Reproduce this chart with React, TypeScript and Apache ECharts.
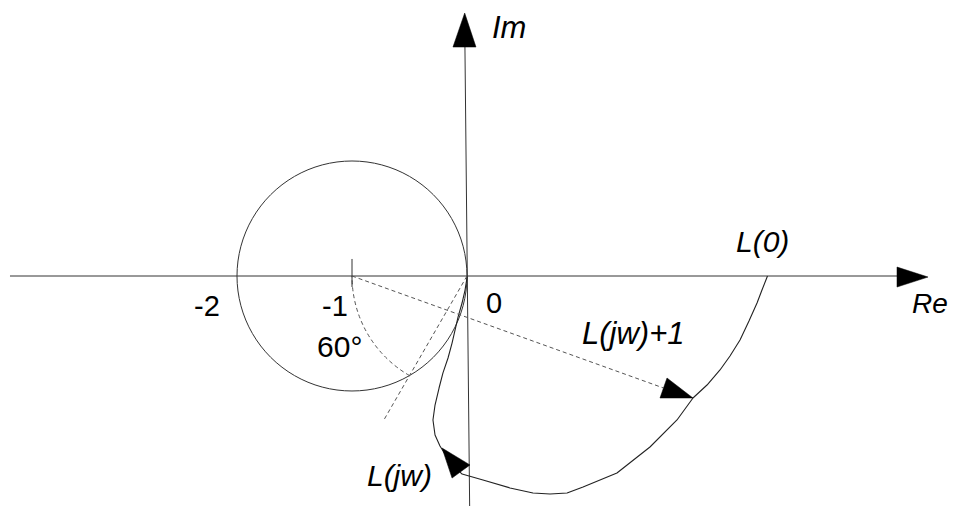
import React, { useEffect, useRef } from "react";
import * as echarts from "echarts";

// ---- data (complex-plane units) ----
const tickValues = [-2, -1, 0];
const tickLabels = ["-2", "-1", "0"];
const axisNames = ["Re", "Im"];

// axes
const realAxisLine = [[-3.974, 0], [3.76, 0]];
const imagAxisLine = [[0.023, -2.0], [-0.018, 2.0]];
const realArrow = [[4.009, -0.009], [3.739, 0.078], [3.739, -0.096]];
const imagArrow = [[-0.02, 2.287], [-0.122, 1.991], [0.078, 1.991]];
const criticalTick = [[-1, 0.148], [-1, -0.096]];

// unit circle centred at the critical point -1
const circleCenter = [-1, 0];
const circleRadius = 1;

// Nyquist curve L(jw), from L(0) to the origin
const curveRe = [
  2.613, 2.565, 2.522, 2.452, 2.374, 2.287, 2.2, 2.087, 1.965, 1.826, 1.591,
  1.304, 1.009, 0.87, 0.722, 0.574, 0.374, 0.139, -0.043, -0.148, -0.235,
  -0.278, -0.296, -0.278, -0.243, -0.209, -0.165, -0.13, -0.078, -0.043,
  -0.017, 0, 0,
];
const curveIm = [
  0, -0.122, -0.235, -0.391, -0.557, -0.696, -0.817, -0.948, -1.061, -1.252,
  -1.487, -1.713, -1.835, -1.887, -1.896, -1.887, -1.843, -1.774, -1.722,
  -1.617, -1.478, -1.383, -1.252, -1.122, -0.974, -0.843, -0.713, -0.583,
  -0.357, -0.235, -0.122, -0.017, 0,
];
const curveArrow = [[-0.217, -1.496], [0.026, -1.643], [-0.13, -1.757]];

// vector L(jw)+1 from -1
const vectorLine = [[-1, 0], [1.709, -0.974]];
const vectorArrow = [[1.965, -1.061], [1.739, -0.887], [1.678, -1.061]];

// 60° construction: arc |L|=1 from 180° to 240°, and ray at 240°
const arcRadius = 1;
const arcStartDeg = 180;
const arcEndDeg = 240;
const rayLine = [[0, 0], [-0.72, -1.247]];

// annotation texts
const annotationTexts = ["Im", "L(0)", "Re", "60°", "L(jw)+1", "L(jw)"];

// ---- layout (positions of texts, in plane units; sizes) ----
const annotationAnchors = [
  [0.217, 2.157],
  [2.339, 0.304],
  [3.87, -0.239],
  [-1.304, -0.617],
  [1.0, -0.5],
  [-0.87, -1.739],
];
const annotationSizes = [31, 30, 28, 30, 31, 30];
const annotationItalic = [true, true, true, false, true, true];
const tickLabelOffsets = [
  [-0.374, -0.261],
  [-0.261, -0.261],
  [0.165, -0.235],
];
const tickLabelSize = 29;

const X_MIN = -467 / 115;
const X_MAX = 488 / 115;
const Y_MIN = -230 / 115;
const Y_MAX = 276 / 115;

const FONT = '"Liberation Sans", Arial, Helvetica, sans-serif';
const LINE = "#333";
const DASH = "#555";

export default function App() {
  const ref = useRef<HTMLDivElement>(null);

  useEffect(() => {
    if (!ref.current) return;
    const chart = echarts.init(ref.current, undefined, { renderer: "svg" });

    const curveData = curveRe.map((x, i) => [x, curveIm[i]]);
    const triangles = [realArrow, imagArrow, curveArrow, vectorArrow];

    const texts = [
      ...tickLabels.map((t, i) => ({
        text: t,
        pos: [tickValues[i] + tickLabelOffsets[i][0], tickLabelOffsets[i][1]],
        size: tickLabelSize,
        italic: false,
      })),
      ...annotationTexts.map((t, i) => ({
        text: t,
        pos: annotationAnchors[i],
        size: annotationSizes[i],
        italic: annotationItalic[i],
      })),
    ];

    const solid = (data: number[][], width = 1, color = LINE) => ({
      type: "line",
      data,
      symbol: "none",
      silent: true,
      lineStyle: { color, width },
      z: 2,
    });
    const dashed = (data: number[][]) => ({
      type: "line",
      data,
      symbol: "none",
      silent: true,
      lineStyle: { color: DASH, width: 1, type: [4, 3] },
      z: 2,
    });

    chart.setOption({
      animation: false,
      backgroundColor: "#ffffff",
      grid: { left: 0, right: 0, top: 0, bottom: 0 },
      xAxis: { type: "value", min: X_MIN, max: X_MAX, show: false },
      yAxis: { type: "value", min: Y_MIN, max: Y_MAX, show: false },
      series: [
        { ...solid(realAxisLine), name: axisNames[0] },
        { ...solid(imagAxisLine), name: axisNames[1] },
        solid(criticalTick),
        { ...solid(curveData, 1.1, "#222"), name: "L(jw)" },
        { ...dashed(vectorLine), name: "L(jw)+1" },
        dashed(rayLine),
        {
          type: "custom",
          name: "circle",
          silent: true,
          data: [[circleCenter[0], circleCenter[1], circleRadius]],
          renderItem: (_p: any, api: any) => {
            const c = api.coord([api.value(0), api.value(1)]);
            const r = api.size([api.value(2), 0])[0];
            return {
              type: "circle",
              shape: { cx: c[0], cy: c[1], r },
              style: { fill: "none", stroke: LINE, lineWidth: 1 },
            };
          },
          z: 2,
        },
        {
          type: "custom",
          name: "arc",
          silent: true,
          data: [[0, 0, arcRadius]],
          renderItem: (_p: any, api: any) => {
            const c = api.coord([api.value(0), api.value(1)]);
            const r = api.size([api.value(2), 0])[0];
            const s = ((360 - arcEndDeg) * Math.PI) / 180;
            const e = ((360 - arcStartDeg) * Math.PI) / 180;
            return {
              type: "arc",
              shape: { cx: c[0], cy: c[1], r, startAngle: s, endAngle: e, clockwise: true },
              style: { fill: "none", stroke: DASH, lineWidth: 1, lineDash: [4, 3] },
            };
          },
          z: 2,
        },
        {
          type: "custom",
          name: "arrows",
          silent: true,
          data: triangles.map((t) => [t[0][0], t[0][1]]),
          renderItem: (p: any, api: any) => {
            const tri = triangles[p.dataIndex];
            return {
              type: "polygon",
              shape: { points: tri.map((pt) => api.coord(pt)) },
              style: { fill: "#000", stroke: "#000", lineWidth: 0.5 },
            };
          },
          z: 3,
        },
        {
          type: "custom",
          name: "labels",
          silent: true,
          data: texts.map((t) => [t.pos[0], t.pos[1]]),
          renderItem: (p: any, api: any) => {
            const t = texts[p.dataIndex];
            const c = api.coord([api.value(0), api.value(1)]);
            return {
              type: "text",
              x: c[0],
              y: c[1],
              style: {
                text: t.text,
                fontSize: t.size,
                fontFamily: FONT,
                fontStyle: t.italic ? "italic" : "normal",
                fill: "#000",
                align: "left",
                verticalAlign: "middle",
              },
            };
          },
          z: 4,
        },
      ],
    });

    return () => chart.dispose();
  }, []);

  return (
    <div
      ref={ref}
      style={{ position: "fixed", left: 0, top: 0, width: 955, height: 506, background: "#fff" }}
    />
  );
}
